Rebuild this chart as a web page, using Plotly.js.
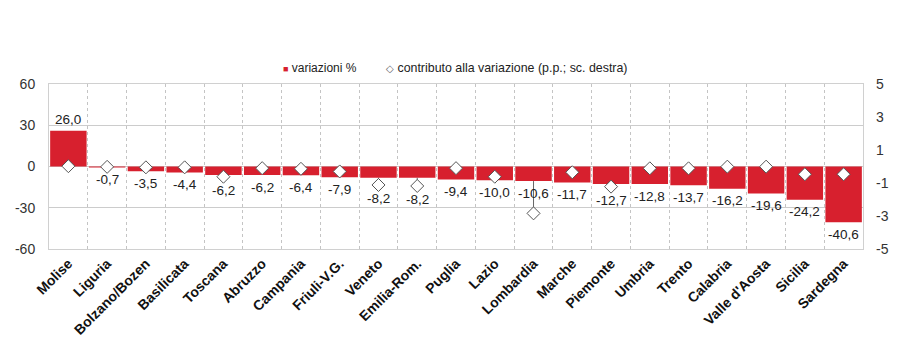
<!DOCTYPE html>
<html>
<head>
<meta charset="utf-8">
<script src="https://cdn.plot.ly/plotly-3.0.1.min.js"></script>
<style>html,body{margin:0;padding:0;background:#fff;}#chart{width:913px;height:363px;}</style>
</head>
<body>
<div id="chart"></div>
<script>
const regions = ["Molise","Liguria","Bolzano/Bozen","Basilicata","Toscana","Abruzzo","Campania","Friuli-V.G.","Veneto","Emilia-Rom.","Puglia","Lazio","Lombardia","Marche","Piemonte","Umbria","Trento","Calabria","Valle d'Aosta","Sicilia","Sardegna"];
const variazioni = [26.0,-0.7,-3.5,-4.4,-6.2,-6.2,-6.4,-7.9,-8.2,-8.2,-9.4,-10.0,-10.6,-11.7,-12.7,-12.8,-13.7,-16.2,-19.6,-24.2,-40.6];
const contributo = [0.02,-0.02,-0.05,-0.05,-0.62,-0.1,-0.14,-0.3,-1.12,-1.18,-0.1,-0.62,-2.84,-0.35,-1.22,-0.11,-0.11,-0.01,-0.01,-0.47,-0.47];
const leftTicks = [-60,-30,0,30,60];
const rightTicks = [-5,-3,-1,1,3,5];
const legendNames = ['variazioni %', 'contributo alla variazione (p.p.; sc. destra)'];

const sans = '"Liberation Sans", Arial, sans-serif';
const RED = '#d7202e';
const L_RANGE = [-60, 60], R_RANGE = [-5, 5];
const M = {l: 49, r: 50, t: 84, b: 114};
const W = 913, H = 363;
const plotH = H - M.t - M.b;
const pxPerL = plotH / (L_RANGE[1] - L_RANGE[0]);
const pxPerR = plotH / (R_RANGE[1] - R_RANGE[0]);
const rToL = (L_RANGE[1] - L_RANGE[0]) / (R_RANGE[1] - R_RANGE[0]);

const fmt = v => v.toFixed(1).replace('.', ',');

// data labels: just outside the bar end; pushed below the diamond when they would collide
const annotations = variazioni.map((v, i) => {
  let y = v, shift = v >= 0 ? 11 : -12;
  if (v < 0) {
    const labelPx = v * pxPerL - 12;
    const diamPx = contributo[i] * pxPerR;
    if (Math.abs(labelPx - diamPx) < 12) { y = contributo[i] * rToL; shift = -14; }
  }
  return {x: regions[i], y: y, xref: 'x', yref: 'y', text: fmt(v), showarrow: false,
          yshift: shift, yanchor: 'middle', xanchor: 'center',
          font: {family: sans, size: 13.5, color: '#222'}};
});

// legend drawn as text
annotations.push(
  {xref: 'paper', yref: 'paper', x: 0.285, y: 1.097, xanchor: 'left', yanchor: 'middle', showarrow: false,
   text: '<span style="color:' + RED + ';font-size:9px">■</span> ' + legendNames[0],
   font: {family: sans, size: 12, color: '#222'}},
  {xref: 'paper', yref: 'paper', x: 0.412, y: 1.097, xanchor: 'left', yanchor: 'middle', showarrow: false,
   text: '<span style="color:#666;font-size:10px">◇</span> ' + legendNames[1],
   font: {family: sans, size: 12.4, color: '#222'}}
);

// connector from the bar end down to a diamond lying below it
const connUp = variazioni.map((v, i) => {
  const barEndR = v < 0 ? v / rToL : 0;
  return contributo[i] < barEndR ? barEndR - contributo[i] : 0;
});

const traces = [
  {
    type: 'bar', x: regions, y: variazioni, name: legendNames[0],
    marker: {color: RED}, hoverinfo: 'x+y'
  },
  {
    type: 'scatter', mode: 'markers', x: regions, y: contributo, yaxis: 'y2',
    name: legendNames[1],
    error_y: {type: 'data', symmetric: false, array: connUp, arrayminus: connUp.map(() => 0),
              width: 0, thickness: 1, color: '#666666'},
    marker: {symbol: 'diamond', size: 10, color: '#ffffff', line: {color: '#555555', width: 1}},
    cliponaxis: false
  }
];

const layout = {
  width: W, height: H,
  margin: M,
  paper_bgcolor: '#ffffff', plot_bgcolor: '#ffffff',
  font: {family: sans, size: 14, color: '#333'},
  bargap: 0.06,
  showlegend: false,
  annotations: annotations,
  xaxis: {
    type: 'category', range: [-0.5, regions.length - 0.5], autorange: false, automargin: false,
    tickson: 'boundaries', showgrid: true, gridcolor: '#c4c4c4', griddash: 'dot',
    ticks: '', tickangle: -45, showline: true, linecolor: '#d0d0d0', mirror: true,
    tickfont: {family: 'Arial, "Liberation Sans", sans-serif', size: 14, color: '#111', weight: 'bold'},
    zeroline: false
  },
  yaxis: {
    range: L_RANGE, autorange: false, automargin: false, tickvals: leftTicks, ticktext: leftTicks.map(String),
    showgrid: true, gridcolor: '#cccccc',
    zeroline: false, showline: true, linecolor: '#d0d0d0', mirror: true, ticks: '',
    tickfont: {family: sans, size: 14, color: '#333'}, ticklabelstandoff: 10
  },
  yaxis2: {
    range: R_RANGE, autorange: false, automargin: false, tickvals: rightTicks, ticktext: rightTicks.map(String),
    overlaying: 'y', side: 'right',
    showgrid: false, zeroline: false, ticks: '',
    tickfont: {family: sans, size: 14, color: '#333'}, ticklabelstandoff: 12
  }
};

Plotly.newPlot('chart', traces, layout, {displayModeBar: false, staticPlot: true});
</script>
</body>
</html>
